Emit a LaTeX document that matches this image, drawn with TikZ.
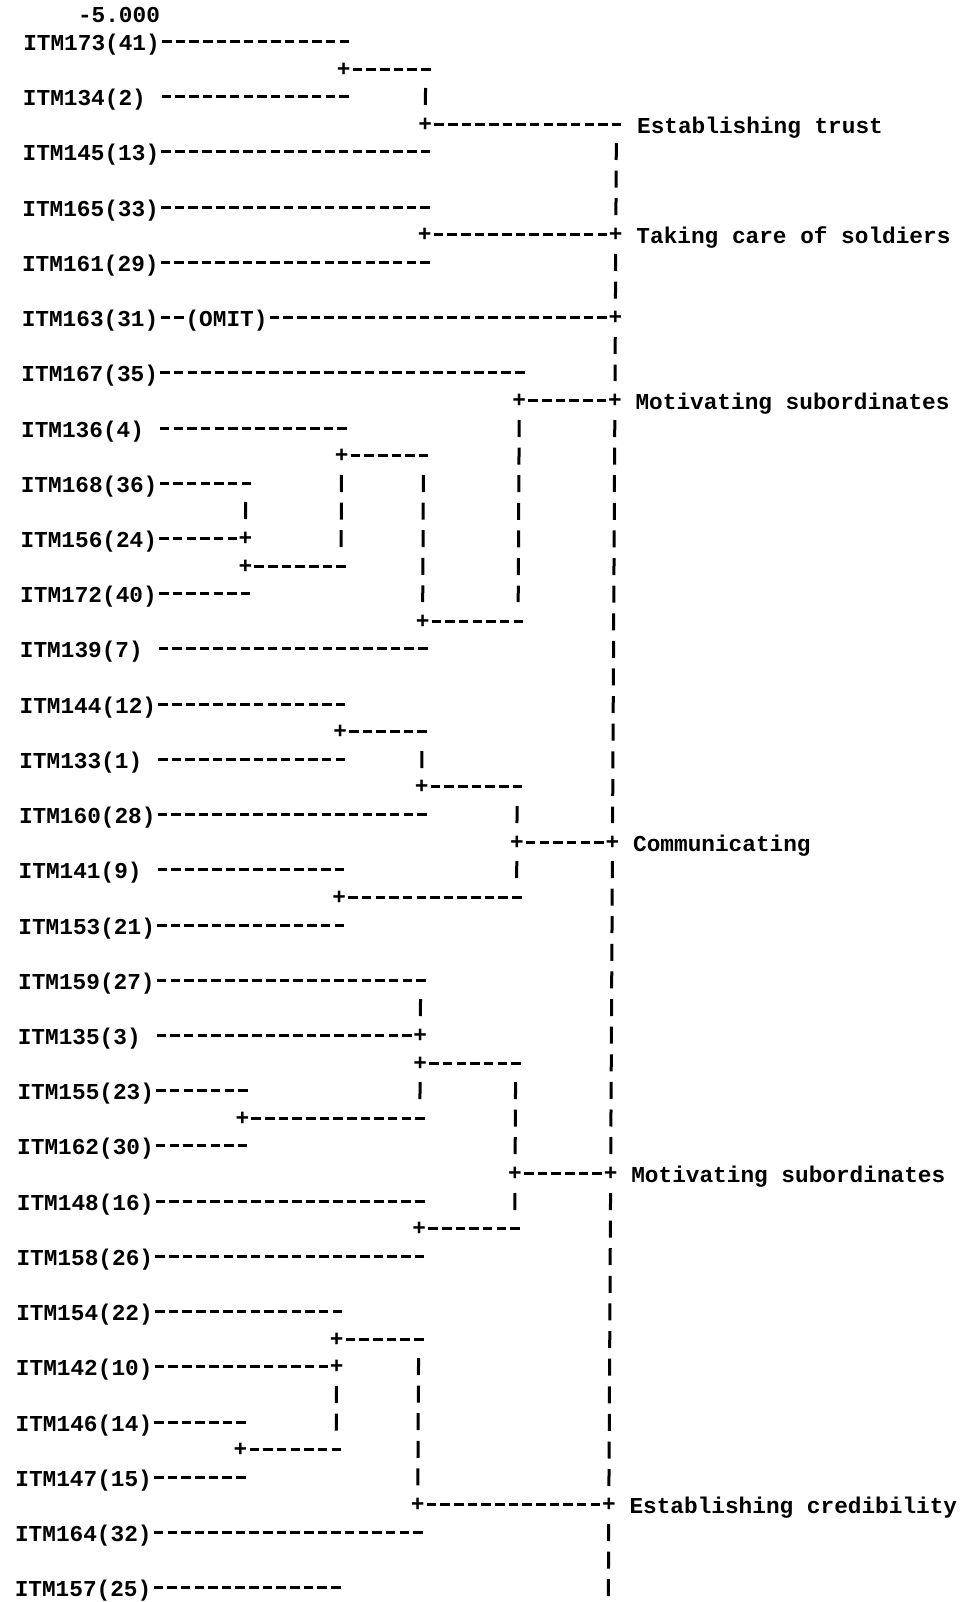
\documentclass[tikz,border=0pt]{standalone}
\usepackage{fontspec}
\newfontfamily\dfont{Liberation Mono}
\newcommand{\rowy}[1]{-round(13.4+27.61*(#1))-0.5}
\newcommand{\colL}{23.3}
\newcommand{\colE}{248.5}
\newcommand{\colA}{344.1}
\newcommand{\colB}{426}
\newcommand{\colD}{521.5}
\newcommand{\colM}{617.1}
\tikzset{
  txt/.style={font=\dfont\bfseries\fontsize{22.75pt}{27pt}\selectfont, inner sep=0pt, text height=21pt, text depth=3.4pt},
  lbl/.style={txt, anchor=west, text width=136.5pt, align=left},
  rlbl/.style={txt, anchor=west},
  pl/.style={txt, text height=14.1pt, text depth=0pt, anchor=center},
  hd/.style={line width=3pt, dash pattern=on 9.5pt off 4.15pt, dash phase=11.575pt},
  vd/.style={line width=3pt, dash pattern=on 17pt off 10.61pt},
}
\begin{document}
\begin{tikzpicture}[x=1pt,y=1pt]
\fill[white] (0,0) rectangle (963,-1602);
\useasboundingbox (0,0) rectangle (963,-1602);
\begin{scope}[xslant=0.0055]
% scale value
\node[rlbl] (scale) at ({\colL+54.6},{\rowy{0}}) {-5.000};
% leaf labels
\foreach \r/\tx in {1/{ITM173(41)}, 3/{ITM134(2)}, 5/{ITM145(13)}, 7/{ITM165(33)}, 9/{ITM161(29)}, 11/{ITM163(31)}, 13/{ITM167(35)}, 15/{ITM136(4)}, 17/{ITM168(36)}, 19/{ITM156(24)}, 21/{ITM172(40)}, 23/{ITM139(7)}, 25/{ITM144(12)}, 27/{ITM133(1)}, 29/{ITM160(28)}, 31/{ITM141(9)}, 33/{ITM153(21)}, 35/{ITM159(27)}, 37/{ITM135(3)}, 39/{ITM155(23)}, 41/{ITM162(30)}, 43/{ITM148(16)}, 45/{ITM158(26)}, 47/{ITM154(22)}, 49/{ITM142(10)}, 51/{ITM146(14)}, 53/{ITM147(15)}, 55/{ITM164(32)}, 57/{ITM157(25)}}
  {\node[lbl] (L\r) at ({\colL},{\rowy{\r}}) {\tx};}
% OMIT marker
\node[rlbl] (omit) at ({\colL+163.8},{\rowy{11}}) {(OMIT)};
% junction plus signs
\foreach \n/\cx/\r in {a2/\colA/2, b4/\colB/4, b8/\colB/8, m8/\colM/8, m11/\colM/11, d14/\colD/14, m14/\colM/14, a16/\colA/16, e19/\colE/19, e20/\colE/20, b22/\colB/22, a26/\colA/26, b28/\colB/28, d30/\colD/30, m30/\colM/30, a32/\colA/32, b37/\colB/37, b38/\colB/38, e40/\colE/40, d42/\colD/42, m42/\colM/42, b44/\colB/44, a48/\colA/48, a49/\colA/49, e52/\colE/52, b54/\colB/54, m54/\colM/54}
  {\node[pl] (p\n) at ({\cx},{\rowy{\r}}) {+};}
% cluster names
\foreach \r/\tx in {4/{Establishing trust}, 8/{Taking care of soldiers}, 14/{Motivating subordinates}, 30/{Communicating}, 42/{Motivating subordinates}, 54/{Establishing credibility}}
  {\node[rlbl] (T\r) at ({\colM+20.475},{\rowy{\r}}) {\tx};}
% leaf lines to open ends
\foreach \r/\cx in {1/\colA, 3/\colA, 5/\colB, 7/\colB, 9/\colB, 13/\colD, 15/\colA, 17/\colE, 21/\colE, 23/\colB, 25/\colA, 27/\colA, 29/\colB, 31/\colA, 33/\colA, 35/\colB, 39/\colE, 41/\colE, 43/\colB, 45/\colB, 47/\colA, 51/\colE, 53/\colE, 55/\colB, 57/\colA}
  {\coordinate (f\r) at ({\cx+6.825},{\rowy{\r}});
   \draw[hd] (L\r.east) -- (f\r);}
% leaf lines ending in a plus
\foreach \r/\n in {19/e19, 37/b37, 49/a49}
  {\draw[hd] (L\r.east) -- (p\n.west);}
\draw[hd] (L11.east) -- (omit.west);
\draw[hd] (omit.east) -- (pm11.west);
% horizontal lines from plus to open ends
\foreach \n/\cx/\r in {a2/\colB/2, b4/\colM/4, a16/\colB/16, e20/\colA/20, b22/\colD/22, a26/\colB/26, b28/\colD/28, a32/\colD/32, b38/\colD/38, e40/\colB/40, b44/\colD/44, a48/\colB/48, e52/\colA/52}
  {\coordinate (g\n) at ({\cx+6.825},{\rowy{\r}});
   \draw[hd] (p\n.east) -- (g\n);}
% horizontal lines from plus to plus
\foreach \n/\m in {b8/m8, d14/m14, d30/m30, d42/m42, b54/m54}
  {\draw[hd] (p\n.east) -- (p\m.west);}
% vertical runs of bars
\foreach \cx/\s/\t [count=\i] in {\colB/3/3, \colM/5/7, \colM/9/10, \colM/12/13, \colM/15/29, \colM/31/41, \colM/43/53, \colM/55/57, \colD/15/21, \colD/29/29, \colD/31/31, \colD/39/41, \colD/43/43, \colA/17/19, \colA/50/51, \colB/17/21, \colB/27/27, \colB/36/36, \colB/39/39, \colB/49/53, \colE/18/18}
  {\coordinate (vt\i) at ({\cx},{\rowy{\s}+8.5});
   \coordinate (vb\i) at ({\cx},{\rowy{\t}-8.5});
   \draw[vd] (vt\i) -- (vb\i);}
\end{scope}
\end{tikzpicture}
\end{document}
